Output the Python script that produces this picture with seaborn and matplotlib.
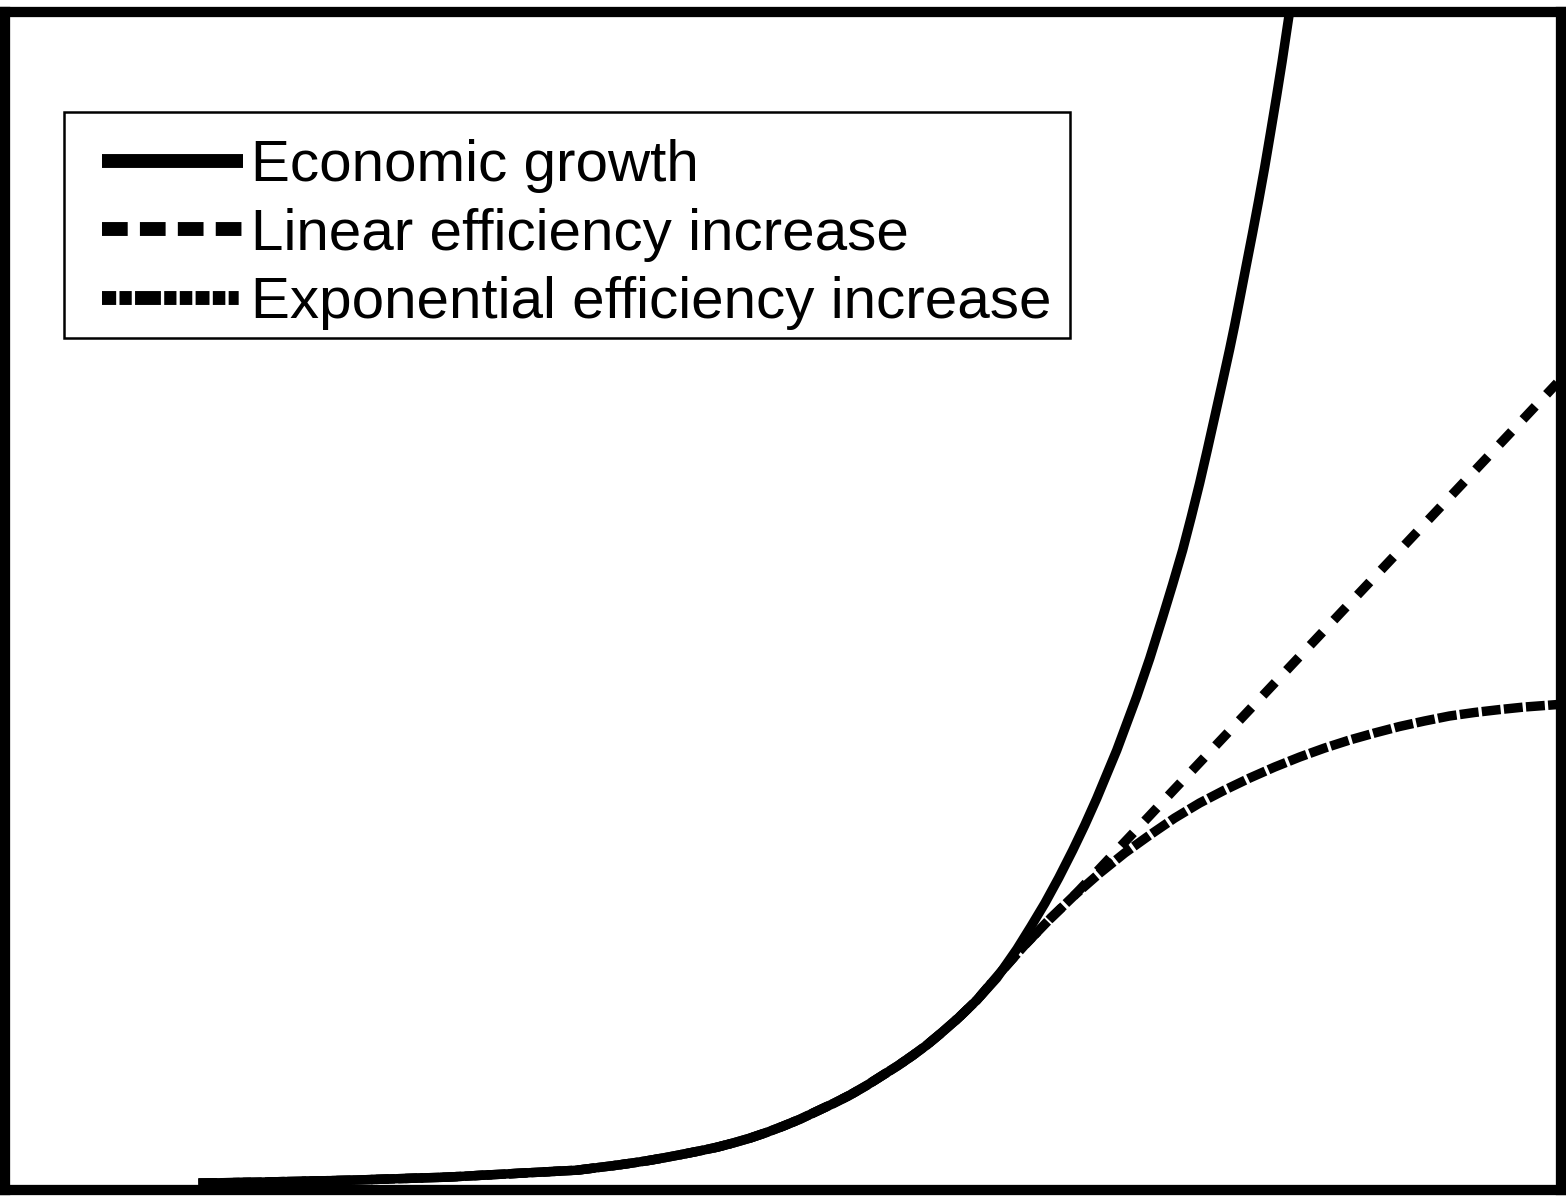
import matplotlib
matplotlib.use("Agg")
import matplotlib.pyplot as plt
from matplotlib.patches import Rectangle
import seaborn as sns
import pandas as pd

# Time axis runs 0-100, resource use 0-100 (arbitrary units)
growth_t = [12.21, 15.89, 22.03, 28.23, 33.01, 36.69, 39.28, 40.34, 41.41,
            42.47, 43.54, 44.64, 45.74, 46.80, 47.87, 48.93, 50.00, 51.10,
            52.20, 53.26, 54.33, 55.39, 56.46, 57.43, 58.40, 59.27, 60.14,
            61.34, 62.53, 63.82, 65.12, 66.02, 66.93, 67.83, 68.73, 69.51,
            70.28, 71.58, 72.87, 73.71, 74.55, 75.19, 75.84, 76.39, 76.94,
            77.42, 77.91, 78.39, 78.88, 79.20, 79.52, 79.94, 80.36, 80.75,
            81.14, 81.52, 81.91, 82.27, 82.62, 82.82]
growth_y = [0.09, 0.17, 0.34, 0.60, 0.94, 1.20, 1.63, 1.83, 2.05,
            2.30, 2.57, 2.86, 3.17, 3.54, 3.95, 4.43, 4.97, 5.57,
            6.26, 6.92, 7.64, 8.45, 9.35, 10.16, 11.05, 11.90, 12.86,
            14.25, 15.78, 17.67, 20.15, 22.07, 24.08, 26.27, 28.62, 30.78,
            33.06, 37.21, 41.81, 45.07, 48.63, 51.42, 54.37, 57.18, 60.12,
            62.88, 65.78, 68.64, 71.60, 73.64, 75.81, 78.70, 81.56, 84.31,
            87.17, 90.15, 93.27, 96.26, 99.37, 101.12]

# Both efficiency paths follow the growth curve up to t = 62.5
shared_t = growth_t[:29]
shared_y = growth_y[:29]

expo_t = shared_t + [64.02, 65.63, 67.25, 68.86, 70.48, 72.09, 73.71, 75.32,
                     76.94, 78.55, 80.17, 81.78, 83.40, 85.01, 86.63, 88.24,
                     89.86, 91.47, 93.09, 94.70, 96.32, 97.93, 100.06]
expo_y = shared_y + [18.10, 20.50, 22.73, 24.79, 26.67, 28.39, 29.93, 31.39,
                     32.68, 33.79, 34.82, 35.76, 36.62, 37.39, 38.08, 38.68,
                     39.24, 39.71, 40.14, 40.44, 40.69, 40.91, 41.12]

linear_t = shared_t + [64.02, 65.63, 67.25, 68.86, 70.48, 72.09, 73.71, 75.32,
                       76.94, 80.17, 83.40, 86.63, 89.86, 93.09, 96.32, 100.06]
linear_y = shared_y + [18.10, 20.50, 22.73, 24.79, 27.06, 29.33, 31.60, 33.88,
                       36.15, 40.69, 45.24, 49.79, 54.33, 58.88, 63.42, 68.70]

labels = ["Economic growth", "Linear efficiency increase",
          "Exponential efficiency increase"]

df = pd.concat([
    pd.DataFrame({"t": growth_t, "v": growth_y, "series": labels[0]}),
    pd.DataFrame({"t": linear_t, "v": linear_y, "series": labels[1]}),
    pd.DataFrame({"t": expo_t, "v": expo_y, "series": labels[2]}),
], ignore_index=True)

sns.set_style("white")
plt.rcParams["font.family"] = ["Liberation Sans Narrow", "Liberation Sans", "DejaVu Sans"]
plt.rcParams["text.color"] = "black"
plt.rcParams["lines.solid_capstyle"] = "butt"
plt.rcParams["lines.dash_capstyle"] = "butt"

W, H = 1566, 1196
fig = plt.figure(figsize=(W / 100, H / 100), dpi=100)
ax = fig.add_axes([5 / W, 6 / H, 1556 / W, 1178 / H])

line_w = 6.8
dash_map = {
    labels[0]: "",
    labels[1]: (1.9, 1.75),
    labels[2]: (2.0, 0.35),
}
sns.lineplot(data=df, x="t", y="v", style="series", dashes=dash_map,
             color="black", linewidth=line_w, sort=False, estimator=None,
             legend=False, ax=ax)
plot_lines = ax.get_lines()[:3]
for ln, lab in zip(plot_lines, labels):
    ln.set_linewidth(line_w)
    if dash_map[lab]:
        ln.set_dashes(dash_map[lab])

ax.set_xlim(-0.3, 100.3)
ax.set_ylim(-0.5, 100.5)
ax.set_xticks([])
ax.set_yticks([])
ax.set_xlabel("")
ax.set_ylabel("")
for sp in ax.spines.values():
    sp.set_visible(True)
    sp.set_color("black")
    sp.set_linewidth(7.4)

# Legend box outline, placed in figure pixels
ax.add_patch(Rectangle((64 / W, 1 - 338 / H), (1070 - 64) / W, (338 - 112) / H,
                       transform=fig.transFigure, facecolor="white",
                       edgecolor="black", linewidth=1.8, zorder=4,
                       clip_on=False))

leg = ax.legend(plot_lines, labels, loc="upper left",
                bbox_to_anchor=(102 / W, 1 - 139 / H),
                bbox_transform=fig.transFigure, borderaxespad=0,
                fontsize=42, handlelength=2.42, handletextpad=0.14,
                labelspacing=0.25, borderpad=0, frameon=False)
leg.set_zorder(6)
legend_dashes = [
    None,
    (1.85, 0.88),
    (1.02, 0.24, 0.88, 0.24, 1.86, 0.24, 0.88, 0.24,
     0.9, 0.24, 1.0, 0.24, 0.9, 0.24, 0.72, 0.5),
]
for ln, d in zip(leg.get_lines(), legend_dashes):
    ln.set_linewidth(10)
    ln.set_solid_capstyle("butt")
    if d is not None:
        ln.set_dashes(d)
        ln.set_dash_capstyle("butt")

fig.savefig("out.png", dpi=100, facecolor="white")
